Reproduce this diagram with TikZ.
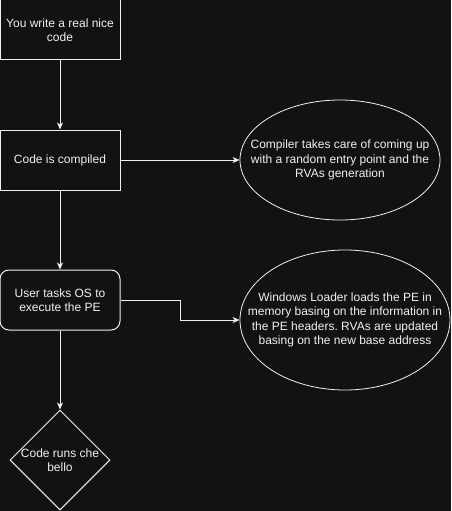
\documentclass[tikz,border=0pt]{standalone}
\usepackage{fontspec}
\setmainfont{Liberation Sans}
\usetikzlibrary{arrows.meta,shapes.geometric}
\definecolor{bg}{HTML}{121212}
\definecolor{fg}{HTML}{F0F0F0}
\frenchspacing
\begin{document}
\begin{tikzpicture}[x=1pt,y=-1pt,
  every node/.style={font=\fontsize{12}{14.5}\selectfont, text=fg, align=center, inner sep=0pt},
  box/.style={draw=fg, fill=bg, line width=1pt, minimum width=120pt, minimum height=60pt},
  rbox/.style={box, rounded corners=9pt},
  oval/.style={draw=fg, fill=bg, line width=0.8pt, ellipse, inner sep=0pt},
  dia/.style={draw=fg, fill=bg, line width=1pt, diamond, minimum width=100pt, minimum height=100pt, aspect=1},
  conn/.style={draw=fg, line width=1pt, -{Stealth[length=7pt,width=6pt,inset=2pt]}}]
\fill[bg] (0,0) rectangle (451,511);
\useasboundingbox (0,0) rectangle (451,511);
\node[box] (a) at (60,30) {You write a real nice\\code};
\node[box] (b) at (60,160) {Code is compiled};
\node[rbox] (c) at (60,300) {User tasks OS to\\execute the PE};
\node[dia, inner sep=0pt] (d) at (60,460) {};
\node (dt) at (60,460) {Code runs che\\bello};
\node[oval, minimum width=200pt, minimum height=120pt] (e) at (340,160) {};
\node (et) at (340,160) {Compiler takes care of coming up\\with a random entry point and the\\RVAs generation};
\node[oval, minimum width=210pt, minimum height=140pt] (f) at (345,320) {};
\node (ft) at (345,320) {Windows Loader loads the PE in\\memory basing on the information in\\the PE headers. RVAs are updated\\basing on the new base address};
\draw[conn] (a) -- (b);
\draw[conn] (b) -- (c);
\draw[conn] (c) -- (d);
\draw[conn] (b) -- (e);
\draw[conn] (c.east) -- ++(60,0) |- (f.west);
\end{tikzpicture}
\end{document}
